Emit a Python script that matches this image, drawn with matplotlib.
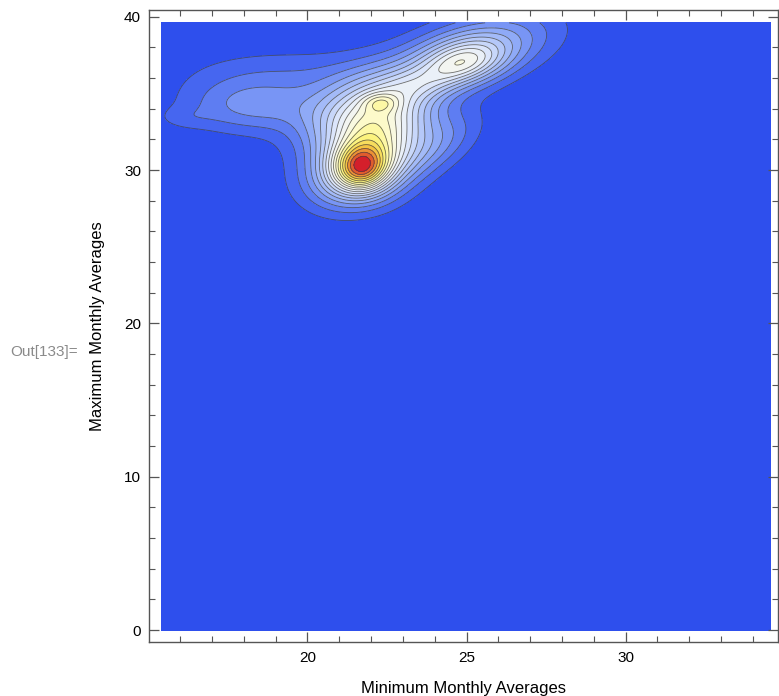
import numpy as np
import matplotlib.pyplot as plt
from matplotlib.colors import LinearSegmentedColormap
from matplotlib.ticker import MultipleLocator

# --- density components (x, y, sx, sy, rho, weight) ---
comp_x = [21.68, 21.80, 22.05, 22.30, 24.85, 25.20, 18.30, 16.10, 24.00, 23.40, 19.30, 21.40]
comp_y = [30.10, 30.40, 33.40, 34.40, 36.90, 37.80, 34.20, 33.40, 31.50, 35.50, 36.40, 29.00]
comp_sx = [0.60, 1.00, 1.30, 0.40, 0.90, 1.60, 1.50, 0.60, 1.00, 0.80, 2.30, 1.30]
comp_sy = [1.05, 1.60, 1.90, 0.45, 1.00, 1.60, 1.25, 0.50, 1.50, 0.80, 1.20, 1.40]
comp_rho = [0.0, 0.30, 0.20, 0.0, 0.30, 0.45, 0.0, 0.0, 0.60, 0.20, 0.0, 0.0]
comp_w = [0.35, 0.38, 0.48, 0.12, 0.25, 0.25, 0.145, 0.035, 0.10, 0.10, 0.06, 0.06]

x_range = (15.4, 34.56)
y_range = (0.0, 39.6)
n_contours = 19

# Mathematica-like TemperatureMap
temp_colors = [(0.00, (0.180, 0.310, 0.930)),
               (0.20, (0.550, 0.660, 0.970)),
               (0.45, (0.900, 0.930, 0.985)),
               (0.55, (0.970, 0.970, 0.930)),
               (0.65, (0.995, 0.985, 0.760)),
               (0.75, (0.985, 0.950, 0.450)),
               (0.85, (0.950, 0.750, 0.250)),
               (0.93, (0.900, 0.450, 0.180)),
               (1.00, (0.830, 0.120, 0.170))]
cmap = LinearSegmentedColormap.from_list("temp", temp_colors)

xs = np.linspace(*x_range, 500)
ys = np.linspace(*y_range, 600)
X, Y = np.meshgrid(xs, ys)
Z = np.zeros_like(X)
for cx, cy, sx, sy, r, w in zip(comp_x, comp_y, comp_sx, comp_sy, comp_rho, comp_w):
    dx = (X - cx) / sx
    dy = (Y - cy) / sy
    q = (dx**2 + dy**2 - 2 * r * dx * dy) / (1 - r**2)
    Z += w * np.exp(-0.5 * q)
Z = Z / Z.max()

levels = np.linspace(0, 1, n_contours + 2)[1:-1]
bounds = np.concatenate([[-1], levels, [1.01]])
band_colors = [cmap(i / (len(bounds) - 2)) for i in range(len(bounds) - 1)]

fig = plt.figure(figsize=(7.79, 6.96), dpi=100)
ax = fig.add_axes([149.3 / 779, 1 - 642.3 / 696, (778.3 - 149.3) / 779, (642.3 - 9.8) / 696])
ax.contourf(X, Y, Z, levels=bounds, colors=band_colors)
ax.contour(X, Y, Z, levels=levels, colors='#404040', linewidths=0.6, alpha=0.75)

ax.set_xlim(15.03, 34.8)
ax.set_ylim(-0.8, 40.45)
ax.xaxis.set_major_locator(MultipleLocator(5))
ax.xaxis.set_minor_locator(MultipleLocator(1))
ax.yaxis.set_major_locator(MultipleLocator(10))
ax.yaxis.set_minor_locator(MultipleLocator(2))
ax.tick_params(which='both', direction='in', top=True, right=True, color='#555555',
               labelsize=11, pad=6)
ax.tick_params(which='major', length=7, width=0.9)
ax.tick_params(which='minor', length=4, width=0.8)
for sp in ax.spines.values():
    sp.set_color('#555555')
    sp.set_linewidth(1.0)
for lab in ax.get_xticklabels() + ax.get_yticklabels():
    lab.set_family('Liberation Sans')

ax.set_xlabel('Minimum Monthly Averages', family='Liberation Sans', fontsize=12, labelpad=12)
ax.set_ylabel('Maximum Monthly Averages', family='Liberation Sans', fontsize=12, labelpad=14)
fig.text(10 / 779, 1 - 352 / 696, 'Out[133]=', family='Liberation Sans', fontsize=11,
         color='#8a8a8a', va='center', ha='left')

fig.savefig('out.png', dpi=100)
